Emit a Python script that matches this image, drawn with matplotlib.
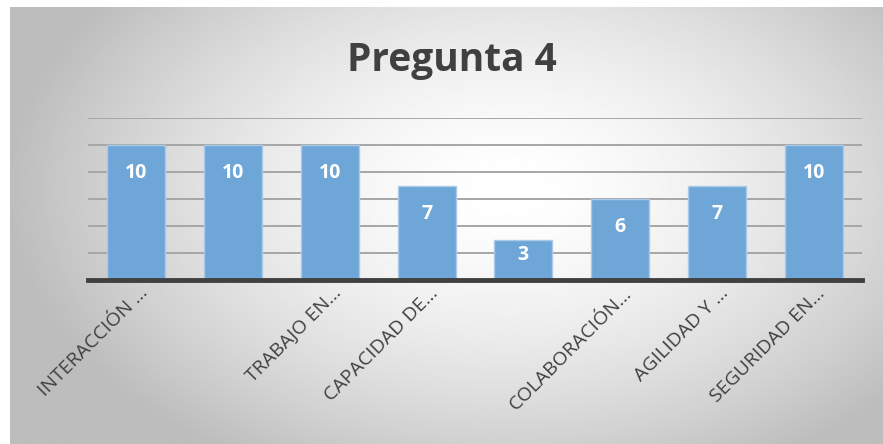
import matplotlib.pyplot as plt
import matplotlib.transforms as mtransforms
import numpy as np

categorias = ['INTERACCIÓN ...', '', 'TRABAJO EN...', 'CAPACIDAD DE...', '',
              'COLABORACIÓN...', 'AGILIDAD Y ...', 'SEGURIDAD EN...']
valores = [10, 10, 10, 7, 3, 6, 7, 10]
titulo = 'Pregunta 4'

plt.rcParams['font.family'] = ['Open Sans', 'DejaVu Sans']

fig = plt.figure(figsize=(8.83, 4.44), dpi=100)
fig.patch.set_facecolor('white')

# radial gradient background of the chart area
bg = fig.add_axes([10 / 883, 0, 873 / 883, 437 / 444])
bg.set_axis_off()
yy, xx = np.mgrid[0:1:300j, 0:1:600j]
r = np.sqrt(((xx - 0.57) / 0.75) ** 2 + ((yy - 0.42) / 0.95) ** 2)
shade = np.clip(1.0 - 0.40 * r ** 1.6, 0.74, 1.0)
bg.imshow(shade, cmap='gray', vmin=0, vmax=1, aspect='auto', extent=[0, 1, 0, 1])

ax = fig.add_axes([88 / 883, 164 / 444, 774 / 883, 162 / 444])
ax.patch.set_alpha(0)
x = np.arange(len(valores))
ax.bar(x, valores, width=0.6, color='#6fa6d8', edgecolor='#a9cbe9', linewidth=1, zorder=3)
ax.set_xlim(-0.5, len(valores) - 0.5)
ax.set_ylim(0, 12)
ax.set_yticks(np.arange(2, 13, 2))
ax.yaxis.grid(True, color='#a6a6a6', linewidth=1.4, zorder=1)
ax.tick_params(left=False, bottom=False, labelleft=False, labelbottom=False)
for s in ['top', 'right', 'left']:
    ax.spines[s].set_visible(False)
ax.spines['bottom'].set_color('#404040')
ax.spines['bottom'].set_linewidth(3.5)
ax.spines['bottom'].set_zorder(4)

for xi, v in zip(x, valores):
    ax.text(xi, max(v - 2.1, v * 0.62), str(v), ha='center', va='center', color='white',
            fontsize=14, fontweight='bold', zorder=5)

off = mtransforms.ScaledTranslation(2 / 100, -4 / 100, fig.dpi_scale_trans)
for xi, lab in zip(x, categorias):
    ax.text(xi, 0, lab, rotation=45, ha='right', va='top', rotation_mode='anchor',
            fontsize=14, color='#404040', transform=ax.transData + off)

fig.text(452 / 883, 1 - 61 / 444, titulo, ha='center', va='center',
         fontsize=28, fontweight='bold', color='#404040')

fig.savefig('out.png', dpi=100)
